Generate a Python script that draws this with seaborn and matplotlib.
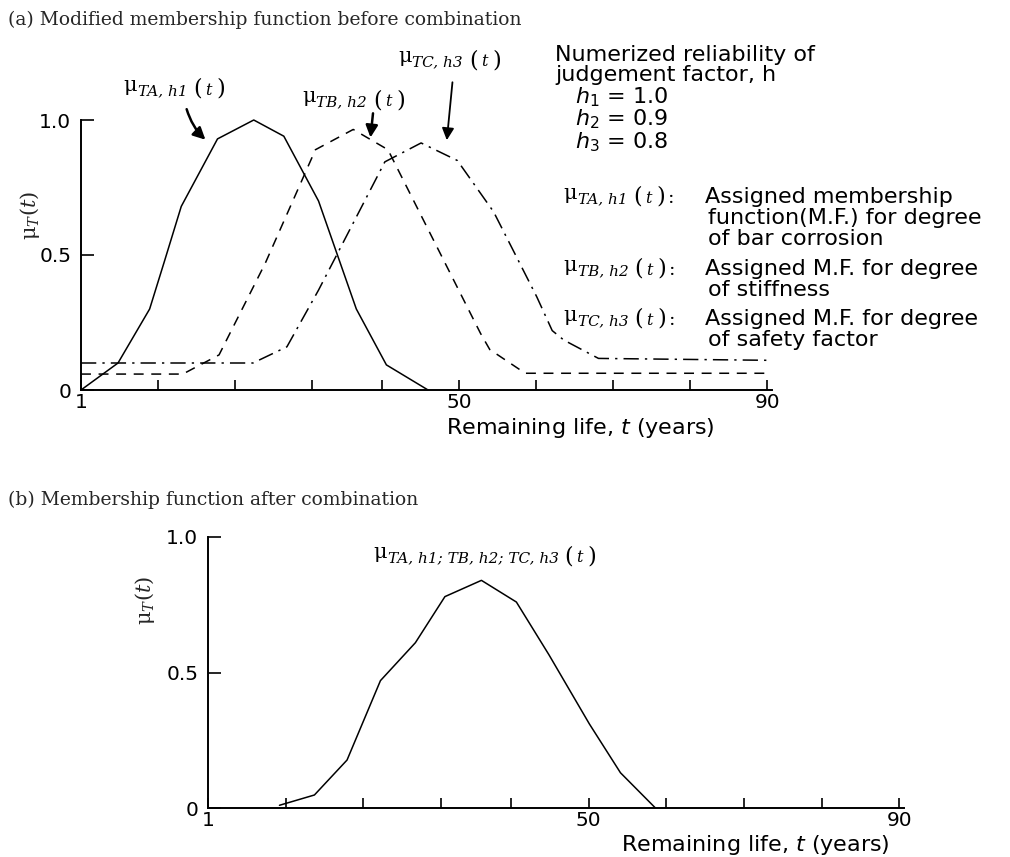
import numpy as np
import pandas as pd
import matplotlib
matplotlib.use("Agg")
import matplotlib.pyplot as plt
import seaborn as sns

# membership curves (t in years, mu in 0..1)
t_a = [1, 5.8, 9.9, 11.8, 14.0, 18.7, 23.4, 27.3, 31.8, 36.7, 40.6, 46.0]
mu_a = [0.0, 0.10, 0.30, 0.475, 0.68, 0.93, 1.0, 0.94, 0.70, 0.30, 0.093, 0.0]

t_b = [1, 14.2, 18.9, 24.9, 31.4, 36.3, 40.8, 52.8, 54.0, 58.6, 90]
mu_b = [0.059, 0.059, 0.13, 0.47, 0.89, 0.965, 0.89, 0.21, 0.15, 0.062, 0.062]

t_c = [1, 23.3, 27.7, 31.8, 40.4, 45.1, 49.8, 54.5, 60.1, 62.1, 63.6, 68.1, 90]
mu_c = [0.10, 0.10, 0.16, 0.37, 0.845, 0.915, 0.85, 0.66, 0.345, 0.22, 0.185, 0.117, 0.11]

t_comb = [10.2, 14.7, 18.9, 23.2, 27.7, 31.5, 36.2, 40.7, 44.9, 50.1, 54.1, 58.6]
mu_comb = [0.01, 0.048, 0.177, 0.47, 0.61, 0.78, 0.84, 0.76, 0.565, 0.31, 0.13, 0.0]

x_ticks = [1, 11, 21, 31, 40, 50, 60, 70, 80, 90]
x_ticklabels = ["1", "", "", "", "", "50", "", "", "", "90"]
y_ticks = [0, 0.5, 1.0]
y_ticklabels = ["0", "0.5", "1.0"]

sns.set_theme(style="ticks")
plt.rcParams["font.family"] = ["DejaVu Sans"]
plt.rcParams["axes.linewidth"] = 1.4

W, H = 1010, 857
fig = plt.figure(figsize=(W / 100, H / 100), dpi=100)
renderer = fig.canvas.get_renderer()


def fx(px):
    return px / W


def fy(py):
    return 1 - py / H


def style_axes(ax):
    sns.despine(ax=ax)
    ax.set_xlim(1, 90.6)
    ax.set_ylim(0, 1.0)
    ax.set_xticks(x_ticks)
    ax.set_xticklabels(x_ticklabels)
    ax.set_yticks(y_ticks)
    ax.set_yticklabels(y_ticklabels)
    ax.tick_params(direction="in", length=9, width=1.2, labelsize=14.5, colors="black", pad=7)
    ax.tick_params(axis="x", length=7, pad=2)
    for sp in ax.spines.values():
        sp.set_color("black")
    ax.set_xlabel("")
    ax.set_ylabel("")


def mu_text(x, base, sub, colon=False):
    # μ with a large italic subscript and "(t )", laid out piece by piece
    parts = [("μ", 15, "normal", -4, 1),
             (sub, 11, "italic", 0, 6),
             ("(", 16, "normal", 0, 3),
             ("t", 11.5, "italic", 0, 5),
             (")", 16, "normal", 0, 3)]
    if colon:
        parts.append((":", 14, "normal", 0, 0))
    for s, size, st, dy, gap in parts:
        t = fig.text(fx(x), fy(base + dy), s, fontsize=size, style=st,
                     family="DejaVu Serif", ha="left", va="baseline", color="black")
        x += t.get_window_extent(renderer).width + gap


sans = dict(fontsize=16, color="black", math_fontfamily="dejavusans", va="baseline")

# (a) before combination
ax1 = fig.add_axes([fx(81), fy(390), fx(772 - 81), 270 / H])
sns.lineplot(x=t_a, y=mu_a, ax=ax1, color="black", lw=1.1, sort=False, clip_on=False)
sns.lineplot(x=t_b, y=mu_b, ax=ax1, color="black", lw=1.1, sort=False, ls=(0, (6.5, 5)))
sns.lineplot(x=t_c, y=mu_c, ax=ax1, color="black", lw=1.1, sort=False, ls=(0, (10, 4, 1.5, 4)))
style_axes(ax1)

arrow = dict(arrowstyle="-|>", color="black", lw=1.8, mutation_scale=18)
ax1.annotate("", xy=(17.4, 0.92), xytext=(14.6, 1.05), arrowprops=dict(arrow, connectionstyle="arc3,rad=0.15"),
             annotation_clip=False)
ax1.annotate("", xy=(38.5, 0.925), xytext=(38.9, 1.035), arrowprops=arrow, annotation_clip=False)
ax1.annotate("", xy=(48.4, 0.915), xytext=(49.2, 1.15), arrowprops=dict(arrow, lw=1.3), annotation_clip=False)

fig.text(fx(8), fy(25), "(a) Modified membership function before combination",
         family="DejaVu Serif", fontsize=13.5, va="baseline", ha="left")
mu_text(123, 95, "TA, h1")
mu_text(302, 106, "TB, h2")
mu_text(398, 66, "TC, h3")
fig.text(fx(30), fy(215), r"μ$_T$($t$)", rotation=90, ha="center", va="center",
         fontsize=15, family="DejaVu Serif", math_fontfamily="dejavuserif")
fig.text(fx(580), fy(434), r"Remaining life, $t$ (years)", ha="center", **sans)

fig.text(fx(555), fy(61), "Numerized reliability of", ha="left", **sans)
fig.text(fx(555), fy(81), "judgement factor, h", ha="left", **sans)
fig.text(fx(575), fy(103), r"$h_1$ = 1.0", ha="left", **sans)
fig.text(fx(575), fy(125), r"$h_2$ = 0.9", ha="left", **sans)
fig.text(fx(575), fy(148), r"$h_3$ = 0.8", ha="left", **sans)

legend_rows = [
    (203, "TA, h1", ["Assigned membership", "function(M.F.) for degree", "of bar corrosion"]),
    (275, "TB, h2", ["Assigned M.F. for degree", "of stiffness"]),
    (325, "TC, h3", ["Assigned M.F. for degree", "of safety factor"]),
]
for base, sub, lines in legend_rows:
    mu_text(563, base, sub, colon=True)
    for i, s in enumerate(lines):
        fig.text(fx(705 if i == 0 else 708), fy(base + 21 * i), s, ha="left", **sans)

# (b) after combination
ax2 = fig.add_axes([fx(208), fy(808), fx(904 - 208), 271 / H])
sns.lineplot(x=t_comb, y=mu_comb, ax=ax2, color="black", lw=1.1, sort=False)
style_axes(ax2)

fig.text(fx(8), fy(505), "(b) Membership function after combination",
         family="DejaVu Serif", fontsize=13.5, va="baseline", ha="left")
mu_text(373, 562, "TA, h1; TB, h2; TC, h3")
fig.text(fx(145), fy(600), r"μ$_T$($t$)", rotation=90, ha="center", va="center",
         fontsize=15, family="DejaVu Serif", math_fontfamily="dejavuserif")
fig.text(fx(755), fy(851), r"Remaining life, $t$ (years)", ha="center", **sans)

fig.savefig("out.png", dpi=100, facecolor="white")
